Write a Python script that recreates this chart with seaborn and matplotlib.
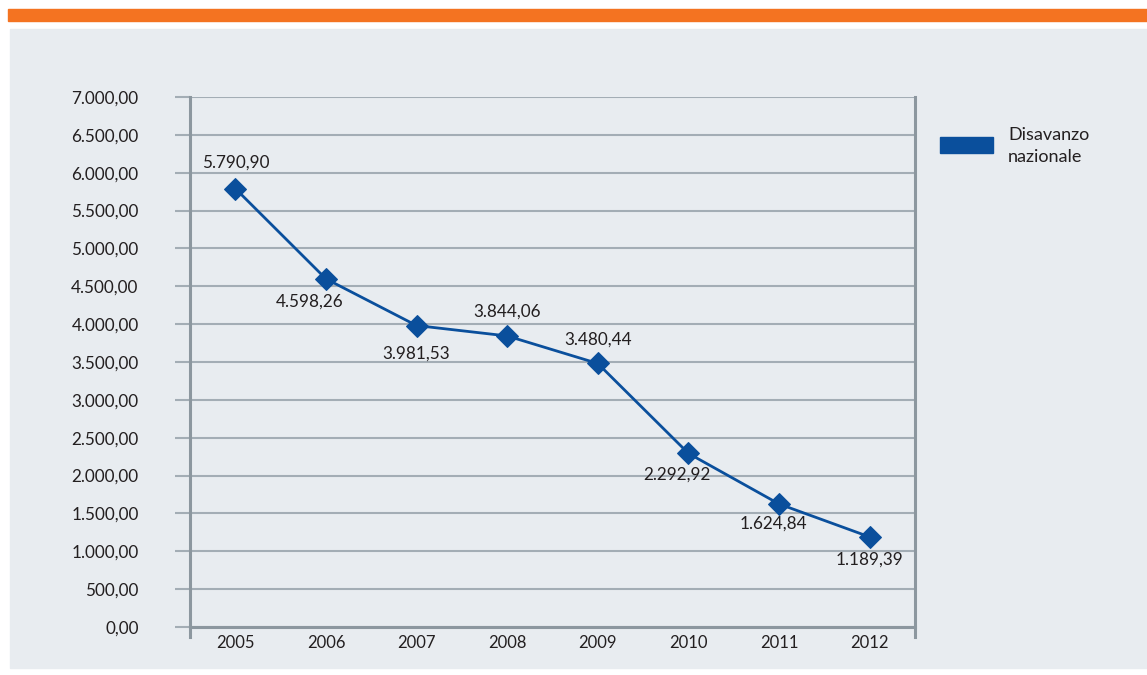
import matplotlib
matplotlib.use("Agg")
import matplotlib.pyplot as plt
import matplotlib.patches as mpatches
from matplotlib.ticker import FuncFormatter, FixedLocator
import seaborn as sns
import pandas as pd

years = ["2005", "2006", "2007", "2008", "2009", "2010", "2011", "2012"]
values = [5790.90, 4598.26, 3981.53, 3844.06, 3480.44, 2292.92, 1624.84, 1189.39]
labels = ["5.790,90", "4.598,26", "3.981,53", "3.844,06", "3.480,44", "2.292,92", "1.624,84", "1.189,39"]
series_name = "Disavanzo\nnazionale"
yticks = list(range(0, 7001, 500))

sns.set_theme(style="white")
plt.rcParams["font.family"] = ["Lato", "DejaVu Sans"]

BLUE = "#0A4F9C"
PANEL = "#E8ECF0"
GRID = "#A3ADB5"
SPINE = "#8C979F"
TEXT = "#231F20"

fig = plt.figure(figsize=(11.47, 6.75), dpi=100)
W, H = 1147, 675
fig.patch.set_facecolor("white")
# orange top band
fig.add_artist(mpatches.Rectangle((8 / W, 1 - 21 / H), 1 - 8 / W, 12 / H,
                                  transform=fig.transFigure, color="#F47321", zorder=-10))
# grey panel
fig.add_artist(mpatches.Rectangle((10 / W, 1 - 668 / H), 1 - 10 / W, 639 / H,
                                  transform=fig.transFigure, color=PANEL, zorder=-10))

ax = fig.add_axes([190 / W, 1 - 627 / H, (915 - 190) / W, (627 - 97) / H])
ax.set_facecolor(PANEL)
ax.set_zorder(1)

df = pd.DataFrame({"anno": years, "valore": values})
x = list(range(len(years)))
df["pos"] = x
sns.lineplot(data=df, x="pos", y="valore", ax=ax, color=BLUE, linewidth=2,
             marker="D", markersize=11, markeredgecolor=BLUE, markerfacecolor=BLUE, zorder=5)

ax.set_xlim(-0.5, len(years) - 0.5)
ax.set_ylim(0, 7000)
ax.yaxis.set_major_locator(FixedLocator(yticks))
ax.yaxis.set_major_formatter(FuncFormatter(
    lambda v, p: f"{v:,.2f}".replace(",", "X").replace(".", ",").replace("X", ".")))
ax.grid(axis="y", color=GRID, linewidth=1.5, zorder=1)
ax.set_axisbelow(True)

ax.set_xticks(x)
ax.set_xticklabels(years)
ax.set_xticks([i - 0.5 for i in range(len(years) + 1)], minor=True)
ax.tick_params(axis="x", which="major", length=0, pad=6, labelsize=12, labelcolor=TEXT)
ax.tick_params(axis="x", which="minor", length=14, width=1.5, color="#B5BEC5")
ax.tick_params(axis="y", which="major", length=11, width=1.5, color=GRID, pad=26,
               labelsize=12.3, labelcolor=TEXT, left=True)
ax.set_xlabel("")
ax.set_ylabel("")

ax.spines["top"].set_visible(False)
for s in ["left", "right", "bottom"]:
    ax.spines[s].set_color(SPINE)
    ax.spines[s].set_linewidth(2.2)
ax.spines["left"].set_bounds(-130, 7000)
ax.spines["right"].set_bounds(-130, 7000)

offsets = [(0, 26), (-16, -23), (0, -28), (0, 24), (0, 24), (-12, -21), (-6, -20), (0, -23)]
for xi, v, lab, off in zip(x, values, labels, offsets):
    ax.annotate(lab, (xi, v), xytext=off, textcoords="offset pixels",
                ha="center", va="center", fontsize=12.3, color=TEXT, zorder=6)

# legend
fig.add_artist(mpatches.Rectangle((940 / W, 1 - 153 / H), 53 / W, 16 / H,
                                  transform=fig.transFigure, color=BLUE, zorder=3))
fig.text(1008 / W, 1 - 127 / H, series_name, ha="left", va="top", fontsize=13,
         color=TEXT, linespacing=1.45)

fig.savefig("out.png", dpi=100, facecolor="white")
